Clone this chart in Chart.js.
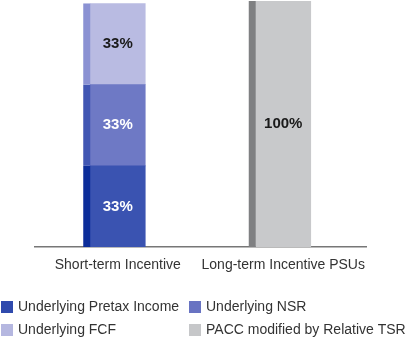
<!DOCTYPE html>
<html><head><meta charset="utf-8">
<script src="https://cdn.jsdelivr.net/npm/chart.js@4/dist/chart.umd.min.js"></script>
<style>html,body{margin:0;padding:0;background:#fff;}#wrap{width:413px;height:341px;position:relative;}</style>
</head><body><div id="wrap"><canvas id="c" width="413" height="341"></canvas></div>
<script>
const categories = ["Short-term Incentive", "Long-term Incentive PSUs"];
const seriesNames = ["Underlying Pretax Income", "Underlying NSR", "Underlying FCF", "PACC modified by Relative TSR"];
const pretaxIncome = [33, null];
const nsr = [33, null];
const fcf = [33, null];
const pacc = [null, 100];
const valueLabels = ["33%", "33%", "33%", "100%"];

const mainColors = ["#3a53b1", "#6e79c5", "#b9bbe2", "#c8c9cb"];
const stripColors = ["#0c2d9a", "#4156b3", "#8b92d3", "#7f8082"];
const legendColors = ["#2f4aad", "#6873c2", "#b5b7e0", "#c6c7c9"];
const labelColors = ["#ffffff", "#ffffff", "#1a1a1a", "#1a1a1a"];
const seriesData = [pretaxIncome, nsr, fcf, pacc];

const stripPlugin = {
  id: 'strip',
  afterDatasetsDraw(chart) {
    const ctx = chart.ctx;
    chart.data.datasets.forEach((ds, di) => {
      const meta = chart.getDatasetMeta(di);
      meta.data.forEach((el, i) => {
        if (ds.data[i] == null) return;
        const p = el.getProps(['x','y','base','width'], true);
        const left = p.x - p.width / 2;
        ctx.save();
        ctx.fillStyle = stripColors[di];
        ctx.fillRect(left - 7, Math.min(p.y, p.base), 7, Math.abs(p.base - p.y));
        ctx.font = "bold 15px 'Liberation Sans', Arial, sans-serif";
        ctx.fillStyle = labelColors[di];
        ctx.textAlign = 'center';
        ctx.textBaseline = 'middle';
        ctx.fillText(valueLabels[di], p.x, (p.y + p.base) / 2);
        ctx.restore();
      });
    });
    // legend
    const pos = [[1, 307], [189, 307], [1, 330], [189, 330]];
    ctx.save();
    ctx.font = "14px 'Liberation Sans', Arial, sans-serif";
    ctx.textBaseline = 'middle';
    ctx.textAlign = 'left';
    seriesNames.forEach((n, k) => {
      const [x, y] = pos[k];
      ctx.fillStyle = legendColors[k];
      ctx.fillRect(x, y - 6, 12, 12);
      ctx.fillStyle = '#333';
      ctx.fillText(n, x + 17, y);
    });
    ctx.restore();
  }
};

new Chart(document.getElementById('c'), {
  type: 'bar',
  data: {
    labels: categories,
    datasets: seriesNames.map((n, k) => ({
      label: n,
      data: seriesData[k],
      backgroundColor: mainColors[k],
      borderWidth: 0,
      barThickness: 55,
      skipNull: true
    }))
  },
  options: {
    responsive: false,
    animation: false,
    devicePixelRatio: 1,
    layout: { padding: { left: 35, right: 47, top: 1, bottom: 0 } },
    plugins: { legend: { display: false }, tooltip: { enabled: false } },
    scales: {
      x: {
        stacked: true,
        grid: { display: false, drawTicks: false },
        border: { display: true, color: '#777', width: 1.5 },
        ticks: { color: '#333', padding: 10, maxRotation: 0, minRotation: 0, autoSkip: false,
                 font: { family: "'Liberation Sans', Arial, sans-serif", size: 14 } },
        afterFit(s) { s.height = 94; s.paddingLeft = 0; s.paddingRight = 0; }
      },
      y: { stacked: true, display: false, min: 0, max: 100 }
    }
  },
  plugins: [stripPlugin]
});
</script></body></html>
